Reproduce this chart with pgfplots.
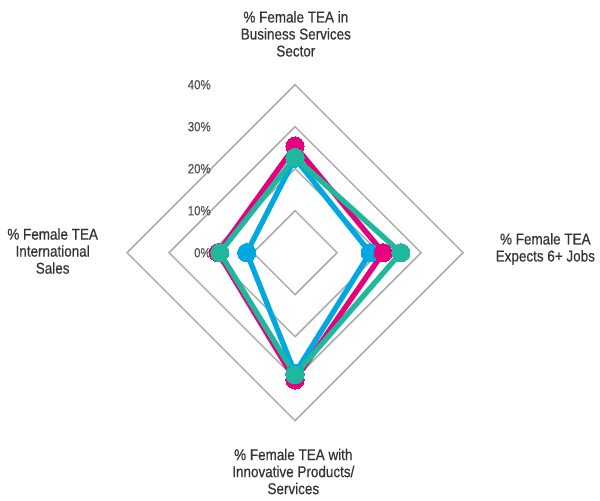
\documentclass[border=0pt]{standalone}
\usepackage{pgfplots}
\pgfplotsset{compat=1.18}
\usepackage{fontspec}
\setmainfont{Liberation Sans}[FakeStretch=0.86, FakeBold=0.5]
\definecolor{cMag}{HTML}{E5007D}
\definecolor{cBlue}{HTML}{00A8E1}
\definecolor{cTeal}{HTML}{1FB89C}
\definecolor{cGrid}{HTML}{ABABAB}
\definecolor{cText}{HTML}{333333}
\definecolor{cTick}{HTML}{505050}
\begin{document}
\begin{tikzpicture}
\begin{axis}[x=3.15pt, y=3.15pt,
  xmin=-70.24, xmax=72.62, ymin=-58.88, ymax=60.17,
  hide axis, clip=false]
\path (rel axis cs:0,0) rectangle (rel axis cs:1,1);
% grid diamonds
\addplot[cGrid, line width=1.1pt, mark=none, line join=miter] coordinates {(0,10) (10,0) (0,-10) (-10,0)} -- cycle;
\addplot[cGrid, line width=1.1pt, mark=none, line join=miter] coordinates {(0,20) (20,0) (0,-20) (-20,0)} -- cycle;
\addplot[cGrid, line width=1.1pt, mark=none, line join=miter] coordinates {(0,30) (30,0) (0,-30) (-30,0)} -- cycle;
\addplot[cGrid, line width=1.1pt, mark=none, line join=miter] coordinates {(0,40) (40,0) (0,-40) (-40,0)} -- cycle;
% series (top, right, bottom, left)
\addplot[cBlue, line width=4pt, line join=round, mark=*, mark size=6.8pt,
  mark options={solid, fill=cBlue, line width=0pt}] coordinates {(0,22.5) (17.9,0) (0,-28.7) (-11.5,0)} -- cycle;
\addplot[cMag, line width=4pt, line join=round, mark=*, mark size=6.8pt,
  mark options={solid, fill=cMag, line width=0pt}] coordinates {(0,25.4) (21.0,0) (0,-30.3) (-18.3,0)} -- cycle;
\addplot[cTeal, line width=4pt, line join=round, mark=*, mark size=6.8pt,
  mark options={solid, fill=cTeal, line width=0pt}] coordinates {(0,22.7) (25.2,0) (0,-29.1) (-17.9,0)} -- cycle;
% radial tick labels
\node[anchor=east, inner sep=0pt, text=cTick, font=\fontsize{10pt}{11pt}\selectfont] at (axis cs:-20,0) {0\%};
\node[anchor=east, inner sep=0pt, text=cTick, font=\fontsize{10pt}{11pt}\selectfont] at (axis cs:-20,10) {10\%};
\node[anchor=east, inner sep=0pt, text=cTick, font=\fontsize{10pt}{11pt}\selectfont] at (axis cs:-20,20) {20\%};
\node[anchor=east, inner sep=0pt, text=cTick, font=\fontsize{10pt}{11pt}\selectfont] at (axis cs:-20,30) {30\%};
\node[anchor=east, inner sep=0pt, text=cTick, font=\fontsize{10pt}{11pt}\selectfont] at (axis cs:-20,40) {40\%};
% category labels
\node[align=center, inner sep=0pt, text=cText, font=\fontsize{11.75pt}{12.75pt}\selectfont] at (axis cs:0.2,52.1) {\% Female TEA in\\Business Services\\Sector};
\node[align=center, inner sep=0pt, text=cText, font=\fontsize{11.75pt}{12.75pt}\selectfont] at (axis cs:59.6,0.9) {\% Female TEA\\Expects 6+ Jobs};
\node[align=center, inner sep=0pt, text=cText, font=\fontsize{11.75pt}{12.75pt}\selectfont] at (axis cs:-57.7,0.4) {\% Female TEA\\International\\Sales};
\node[align=center, inner sep=0pt, text=cText, font=\fontsize{11.75pt}{12.75pt}\selectfont] at (axis cs:-0.4,-52.1) {\% Female TEA with\\Innovative Products/\\Services};
\end{axis}
\end{tikzpicture}
\end{document}
